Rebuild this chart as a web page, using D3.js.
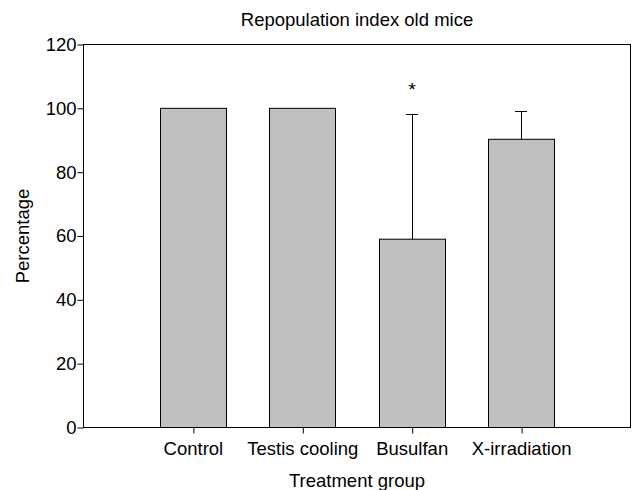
<!DOCTYPE html>
<html>
<head>
<meta charset="utf-8">
<script src="https://cdn.jsdelivr.net/npm/d3@7"></script>
<style>
  body { margin: 0; background: #fff; }
  svg text { font-family: "Liberation Sans", Arial, sans-serif; fill: #000; }
</style>
</head>
<body>
<div id="chart"></div>
<script>
// chart data
const categories = ['Control', 'Testis cooling', 'Busulfan', 'X-irradiation'];
const means = [100, 100, 59, 90.3];
const errors = [0, 0, 39.3, 8.8];
const marks = ['', '', '*', ''];
const yTicks = [0, 20, 40, 60, 80, 100, 120];

const width = 634, height = 490;
const margin = { top: 44.5, right: 3.5, bottom: 62.5, left: 83.5 };
const fontSize = 18.5;

const svg = d3.select('#chart').append('svg')
  .attr('width', width)
  .attr('height', height);

const x = d3.scalePoint()
  .domain(categories)
  .range([margin.left, width - margin.right])
  .padding(1);

const y = d3.scaleLinear()
  .domain([0, 120])
  .range([height - margin.bottom, margin.top]);

const barWidth = x.step() * 0.6;

const rows = categories.map((c, i) => ({ cat: c, mean: means[i], err: errors[i], mark: marks[i] }));

// bars
svg.append('g').selectAll('rect')
  .data(rows).enter()
  .append('rect')
  .attr('x', d => Math.round(x(d.cat) - barWidth / 2) + 0.5)
  .attr('y', d => y(d.mean))
  .attr('width', Math.round(barWidth))
  .attr('height', d => y(0) - y(d.mean))
  .attr('fill', '#c0c0c0')
  .attr('stroke', '#000')
  .attr('stroke-width', 1);

// error bars (upper only)
const errG = svg.append('g').selectAll('g')
  .data(rows.filter(d => d.err > 0)).enter()
  .append('g');
errG.append('line')
  .attr('x1', d => Math.round(x(d.cat)) + 0.5)
  .attr('x2', d => Math.round(x(d.cat)) + 0.5)
  .attr('y1', d => y(d.mean))
  .attr('y2', d => y(d.mean + d.err))
  .attr('stroke', '#000');
errG.append('line')
  .attr('x1', d => Math.round(x(d.cat)) - 6)
  .attr('x2', d => Math.round(x(d.cat)) + 6)
  .attr('y1', d => Math.round(y(d.mean + d.err)) + 0.5)
  .attr('y2', d => Math.round(y(d.mean + d.err)) + 0.5)
  .attr('stroke', '#000');

// significance marks
svg.append('g').selectAll('text')
  .data(rows.filter(d => d.mark)).enter()
  .append('text')
  .attr('x', d => x(d.cat) + 0.5)
  .attr('y', d => y(d.mean + d.err) - 18)
  .attr('text-anchor', 'middle')
  .style('font-size', fontSize + 'px')
  .text(d => d.mark);

// axes
const yAxis = svg.append('g')
  .attr('transform', `translate(${margin.left},0)`)
  .call(d3.axisLeft(y).tickValues(yTicks).tickSize(6).tickPadding(1));
yAxis.select('.domain').remove();
yAxis.selectAll('text').style('font-size', fontSize + 'px');

const xAxis = svg.append('g')
  .attr('transform', `translate(0,${height - margin.bottom})`)
  .call(d3.axisBottom(x).tickSize(6).tickPadding(8));
xAxis.select('.domain').remove();
xAxis.selectAll('text').style('font-size', fontSize + 'px');
xAxis.selectAll('line').attr('transform', 'translate(0.5,0)');

// frame
svg.append('rect')
  .attr('x', margin.left)
  .attr('y', margin.top)
  .attr('width', width - margin.left - margin.right)
  .attr('height', height - margin.top - margin.bottom)
  .attr('fill', 'none')
  .attr('stroke', '#000');

// titles
const cx = (margin.left + width - margin.right) / 2;
svg.append('text')
  .attr('x', cx)
  .attr('y', 26)
  .attr('text-anchor', 'middle')
  .style('font-size', fontSize + 'px')
  .text('Repopulation index old mice');

svg.append('text')
  .attr('x', cx)
  .attr('y', 487)
  .attr('text-anchor', 'middle')
  .style('font-size', fontSize + 'px')
  .text('Treatment group');

svg.append('text')
  .attr('transform', `translate(29,${(margin.top + height - margin.bottom) / 2}) rotate(-90)`)
  .attr('text-anchor', 'middle')
  .style('font-size', fontSize + 'px')
  .text('Percentage');
</script>
</body>
</html>
